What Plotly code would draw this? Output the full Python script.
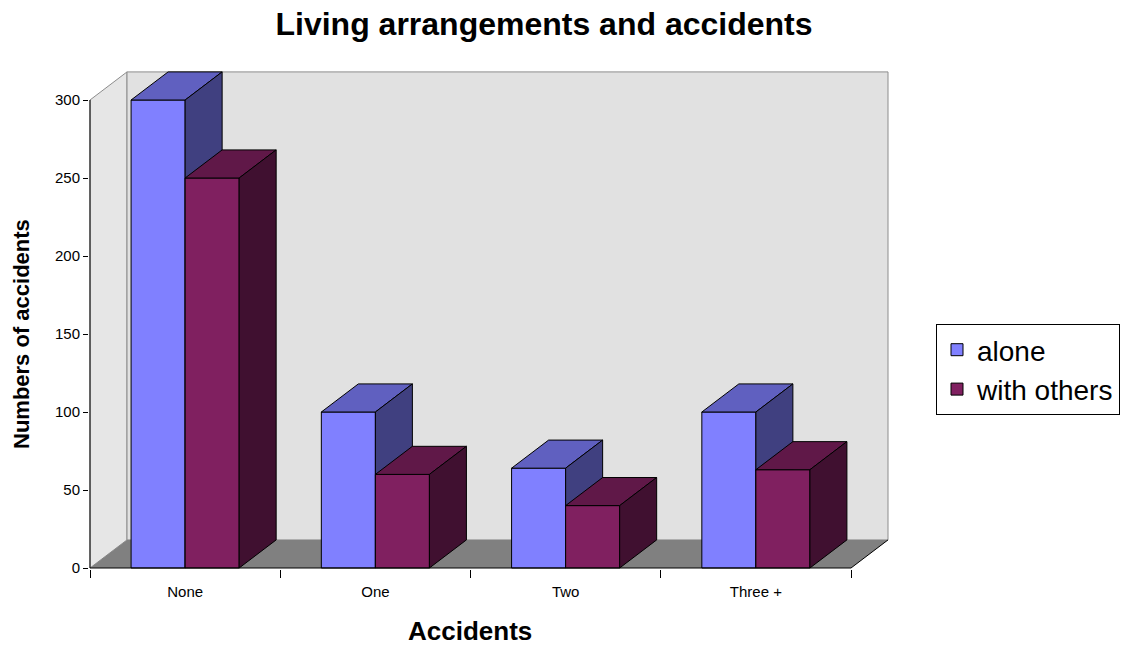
import plotly.graph_objects as go

# ---- data ----
categories = ["None", "One", "Two", "Three +"]
alone = [300, 100, 64, 100]
with_others = [250, 60, 40, 63]
series_names = ["alone", "with others"]
y_ticks = [0, 50, 100, 150, 200, 250, 300]

# ---- styling ----
FRONT = ["#8080FF", "#802060"]
TOP = ["#6060C0", "#601848"]
SIDE = ["#404080", "#401030"]
FONT = "Liberation Sans, Arial, Helvetica, sans-serif"

BAR_W = 0.284      # bar width in category units
DEPTH_X = 0.1945   # oblique depth offset (category units)
DEPTH_Y = 18.0     # oblique depth offset (value units)
YMAX = y_ticks[-1]

PX_X = 190.25      # pixels per category
PX_Y = 1.56        # pixels per value unit
L, R, T, B = 89, 231, 70, 77
W_FIG, H_FIG = 1121, 646
plot_w = W_FIG - L - R
plot_h = H_FIG - T - B

n = len(categories)
x_left, x_right = -0.5, n - 0.5
x_range = [x_left - 1 / PX_X, x_left - 1 / PX_X + plot_w / PX_X]
y_range = [-1 / PX_Y, -1 / PX_Y + plot_h / PX_Y]


def path(pts):
    return "M " + " L ".join(f"{x},{y}" for x, y in pts) + " Z"


shapes = [
    # left wall
    dict(type="path", xref="x", yref="y", layer="below",
         path=path([(x_left, 0), (x_left, YMAX), (x_left + DEPTH_X, YMAX + DEPTH_Y),
                    (x_left + DEPTH_X, DEPTH_Y)]),
         fillcolor="#e6e6e6", line=dict(color="#8c8c8c", width=1)),
    # back wall
    dict(type="path", xref="x", yref="y", layer="below",
         path=path([(x_left + DEPTH_X, DEPTH_Y), (x_left + DEPTH_X, YMAX + DEPTH_Y),
                    (x_right + DEPTH_X, YMAX + DEPTH_Y), (x_right + DEPTH_X, DEPTH_Y)]),
         fillcolor="#e1e1e1", line=dict(color="#8c8c8c", width=1)),
    # floor
    dict(type="path", xref="x", yref="y", layer="below",
         path=path([(x_left, 0), (x_right, 0), (x_right + DEPTH_X, DEPTH_Y),
                    (x_left + DEPTH_X, DEPTH_Y)]),
         fillcolor="#808080", line=dict(width=0)),
    # floor right edge
    dict(type="line", xref="x", yref="y", layer="below",
         x0=x_right, y0=0, x1=x_right + DEPTH_X, y1=DEPTH_Y,
         line=dict(color="black", width=1)),
    # y axis line
    dict(type="line", xref="x", yref="y", layer="above",
         x0=x_left, y0=0, x1=x_left, y1=YMAX, line=dict(color="black", width=1)),
    # x axis line
    dict(type="line", xref="x", yref="y", layer="above",
         x0=x_left, y0=0, x1=x_right, y1=0, line=dict(color="black", width=1)),
]

fig = go.Figure()

for s, vals in enumerate([alone, with_others]):
    off = -BAR_W if s == 0 else 0.0
    z = 2 * s + 1
    fig.add_trace(go.Bar(
        x=list(range(n)), y=vals, width=BAR_W, offset=off,
        marker=dict(color=FRONT[s], line=dict(color="black", width=1)),
        name=series_names[s], zorder=z, hoverinfo="x+y+name",
    ))
    for i, v in enumerate(vals):
        x0 = i + off
        x1 = x0 + BAR_W
        # top face
        tx = [x0, x0 + DEPTH_X, x1 + DEPTH_X, x1, x0]
        ty = [v, v + DEPTH_Y, v + DEPTH_Y, v, v]
        fig.add_trace(go.Scatter(
            x=tx, y=ty, mode="lines", fill="toself", fillcolor=TOP[s],
            line=dict(color="black", width=1), showlegend=False,
            hoverinfo="skip", zorder=z))
        # side face
        sx = [x1, x1, x1 + DEPTH_X, x1 + DEPTH_X, x1]
        sy = [0, v, v + DEPTH_Y, DEPTH_Y, 0]
        fig.add_trace(go.Scatter(
            x=sx, y=sy, mode="lines", fill="toself", fillcolor=SIDE[s],
            line=dict(color="black", width=1), showlegend=False,
            hoverinfo="skip", zorder=z))

# invisible trace so the category-label axis is drawn
fig.add_trace(go.Scatter(x=[None], y=[None], xaxis="x2", yaxis="y",
                         mode="markers", showlegend=False, hoverinfo="skip"))

fig.update_layout(
    width=W_FIG, height=H_FIG,
    margin=dict(l=L, r=R, t=T, b=B, autoexpand=False),
    paper_bgcolor="white", plot_bgcolor="white",
    barmode="overlay",
    font=dict(family=FONT, color="black"),
    title=dict(text="<b>Living arrangements and accidents</b>",
               font=dict(size=32, family=FONT, color="black"),
               x=544 / W_FIG, xref="container", xanchor="center",
               y=1 - 24 / H_FIG, yref="container", yanchor="middle"),
    shapes=shapes,
    xaxis=dict(range=x_range, tickvals=[k - 0.5 for k in range(n + 1)],
               ticktext=[""] * (n + 1), ticks="outside", ticklen=8,
               tickcolor="black", showgrid=False, zeroline=False,
               showline=False, fixedrange=True),
    xaxis2=dict(range=x_range, overlaying="x", anchor="y", side="bottom",
                tickvals=list(range(n)), ticktext=categories,
                ticks="outside", ticklen=9, tickcolor="rgba(0,0,0,0)",
                tickfont=dict(size=15, family=FONT, color="black"),
                showgrid=False, zeroline=False, showline=False, fixedrange=True),
    yaxis=dict(range=y_range, tickvals=y_ticks, ticks="outside", ticklen=5,
               tickcolor="black", tickfont=dict(size=15, family=FONT, color="black"),
               showgrid=False, zeroline=False, showline=False, fixedrange=True),
    legend=dict(x=(936 - L) / plot_w, xanchor="left",
                y=(H_FIG - B - 324) / plot_h, yanchor="top",
                bordercolor="black", borderwidth=1, bgcolor="white",
                font=dict(size=28, family=FONT, color="black")),
    annotations=[
        dict(text="<b>Accidents</b>", xref="paper", yref="paper",
             x=(470 - L) / plot_w, y=(H_FIG - B - 631) / plot_h,
             xanchor="center", yanchor="middle", showarrow=False,
             font=dict(size=26, family=FONT, color="black")),
        dict(text="<b>Numbers of accidents</b>", xref="paper", yref="paper",
             x=(21 - L) / plot_w, y=(H_FIG - B - 334) / plot_h,
             xanchor="center", yanchor="middle", showarrow=False, textangle=-90,
             font=dict(size=22, family=FONT, color="black")),
    ],
)

fig.write_html("out.html", config={"displayModeBar": False},
               post_script="document.body.style.margin='0';")
